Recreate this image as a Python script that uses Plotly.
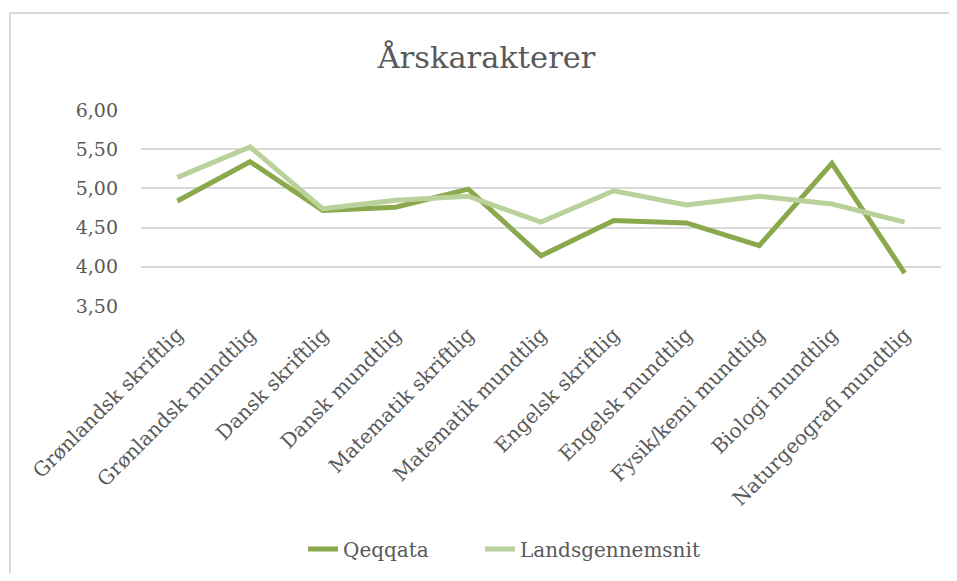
import plotly.graph_objects as go

categories = ["Grønlandsk skriftlig", "Grønlandsk mundtlig", "Dansk skriftlig", "Dansk mundtlig",
              "Matematik skriftlig", "Matematik mundtlig", "Engelsk skriftlig", "Engelsk mundtlig",
              "Fysik/kemi mundtlig", "Biologi mundtlig", "Naturgeografi mundtlig"]
qeqqata = [4.84, 5.34, 4.72, 4.76, 4.99, 4.14, 4.59, 4.56, 4.27, 5.32, 3.92]
landsgennemsnit = [5.14, 5.53, 4.74, 4.85, 4.90, 4.57, 4.97, 4.79, 4.90, 4.80, 4.57]
y_ticks = [3.5, 4.0, 4.5, 5.0, 5.5, 6.0]

FONT = "DejaVu Serif"
GREY = "#595959"

fig = go.Figure()
fig.add_trace(go.Scatter(x=categories, y=qeqqata, name="Qeqqata", mode="lines",
                         line=dict(color="#8AA84C", width=5), legend="legend"))
fig.add_trace(go.Scatter(x=categories, y=landsgennemsnit, name="Landsgennemsnit", mode="lines",
                         line=dict(color="#B9D19B", width=5), legend="legend2"))

W, H = 941, 565
L, R, T, B = 133, 8, 102, 267
PW, PH = W - L - R, H - T - B
leg_y = (T + PH - 541) / PH
leg_font = dict(family=FONT, size=20, color=GREY)

fig.update_layout(
    width=W, height=H,
    margin=dict(l=L, r=R, t=T, b=B, autoexpand=False),
    paper_bgcolor="white", plot_bgcolor="white",
    separators=",.",
    font=dict(family=FONT, color=GREY),
    title=dict(text="Årskarakterer", x=(486.5 - 8) / W, xanchor="center", y=1 - 49 / H, yanchor="middle",
               font=dict(family=FONT, size=30.5, color=GREY)),
    showlegend=True,
    legend=dict(orientation="h", x=(303 - 141) / PW, xanchor="left", y=leg_y, yanchor="middle",
                font=leg_font),
    legend2=dict(orientation="h", x=(480 - 141) / PW, xanchor="left", y=leg_y, yanchor="middle",
                 font=leg_font),
    shapes=[dict(type="rect", xref="paper", yref="paper",
                 x0=(2 - L) / PW, x1=1.05,
                 y0=-1.5, y1=1 + (T - 5) / PH,
                 line=dict(color="#D9D9D9", width=2), layer="below")],
)
fig.update_xaxes(type="category", range=[-0.5, len(categories) - 0.5], tickangle=-45,
                 showgrid=False, showline=False, automargin=False,
                 ticks="", ticklabelstandoff=12, tickfont=dict(family=FONT, size=20, color=GREY))
fig.update_yaxes(range=[3.5, 6.0], tickvals=y_ticks, tickformat=".2f", automargin=False,
                 showgrid=True, gridcolor="#D9D9D9", gridwidth=1.5, zeroline=False,
                 showline=False, ticks="", ticklabelstandoff=22,
                 tickfont=dict(family=FONT, size=19, color=GREY))

fig.write_html("out.html")
